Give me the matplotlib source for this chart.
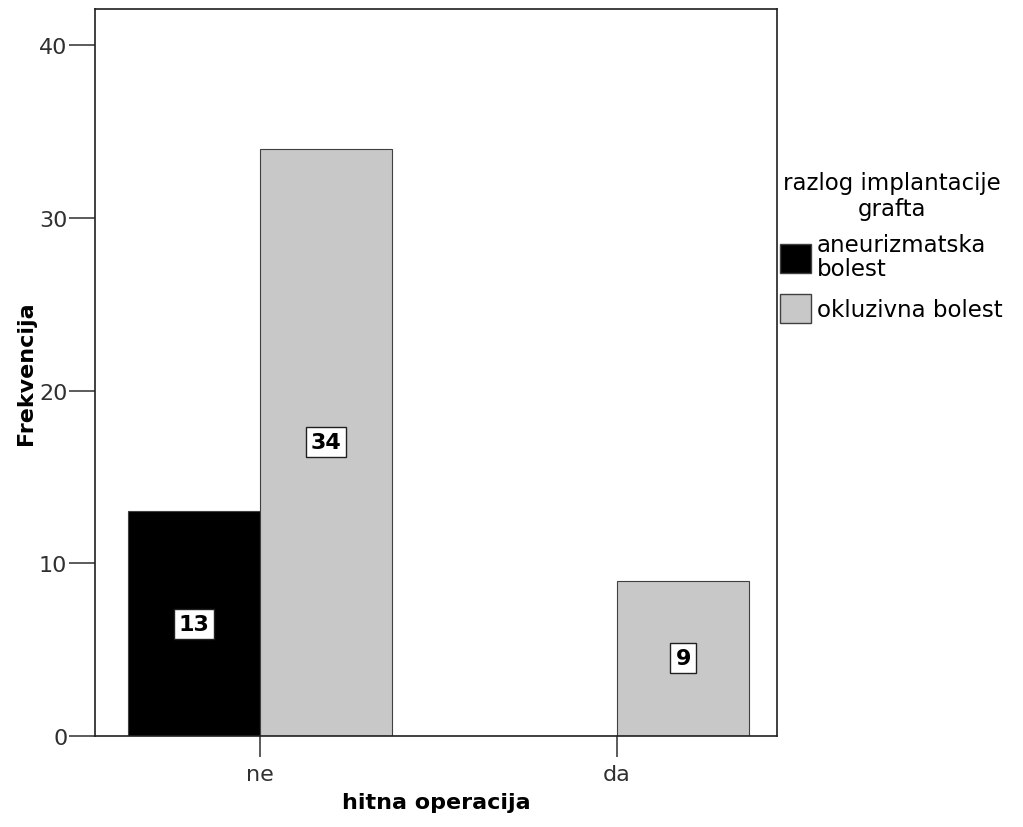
import numpy as np
import matplotlib.pyplot as plt
from matplotlib.patches import Patch

plt.rcParams['font.family'] = ['DejaVu Sans']

categories = ["ne", "da"]
series_names = ["aneurizmatska\nbolest", "okluzivna bolest"]
aneurizmatska = [13, 0]
okluzivna = [34, 9]
colors = ["#000000", "#c8c8c8"]

fig = plt.figure(figsize=(10.23, 8.28), dpi=100)
ax = fig.add_axes([0.0929, 0.110, 0.6666, 0.878])

x = np.arange(len(categories))
w = 0.37
series = [aneurizmatska, okluzivna]
for i, (vals, col) in enumerate(zip(series, colors)):
    pos = x - w / 2 + i * w
    bars = ax.bar(pos, vals, width=w, color=col, edgecolor="#404040", linewidth=0.8)
    for b, v in zip(bars, vals):
        if v > 0:
            ax.text(b.get_x() + b.get_width() / 2, v / 2, str(v),
                    ha="center", va="center", fontsize=16, fontweight="bold",
                    bbox=dict(boxstyle="square,pad=0.22", fc="white", ec="#202020", lw=1.0))

ax.set_xlim(-0.462, 1.448)
ax.set_ylim(0, 42.1)
ax.set_yticks([0, 10, 20, 30, 40])
ax.set_xticks(x)
ax.set_xticklabels(categories)
ax.tick_params(axis="both", direction="out", width=1.2,
               color="#404040", labelcolor="#303030", labelsize=16)
ax.tick_params(axis="y", length=19, pad=1)
ax.tick_params(axis="x", length=15, pad=5)
for s in ax.spines.values():
    s.set_color("#202020")
    s.set_linewidth(1.2)

ax.set_xlabel("hitna operacija", fontsize=16, fontweight="bold", labelpad=6)
ax.set_ylabel("Frekvencija", fontsize=16, fontweight="bold", labelpad=2)

handles = [Patch(facecolor=c, edgecolor="#404040") for c in colors]
leg = ax.legend(handles, series_names, title="razlog implantacije\ngrafta",
                loc="upper left", bbox_to_anchor=(1.0, 0.782), frameon=False,
                fontsize=16.5, title_fontsize=16.5, handlelength=1.35, handleheight=1.57,
                handletextpad=0.25, labelspacing=0.6, borderaxespad=0.15,
                borderpad=0.0)
leg._legend_box.align = "center"
leg.get_title().set_multialignment("center")
leg.get_title().set_linespacing(1.15)
for t in leg.get_texts():
    t.set_linespacing(1.05)

fig.savefig("out.png", dpi=100)
